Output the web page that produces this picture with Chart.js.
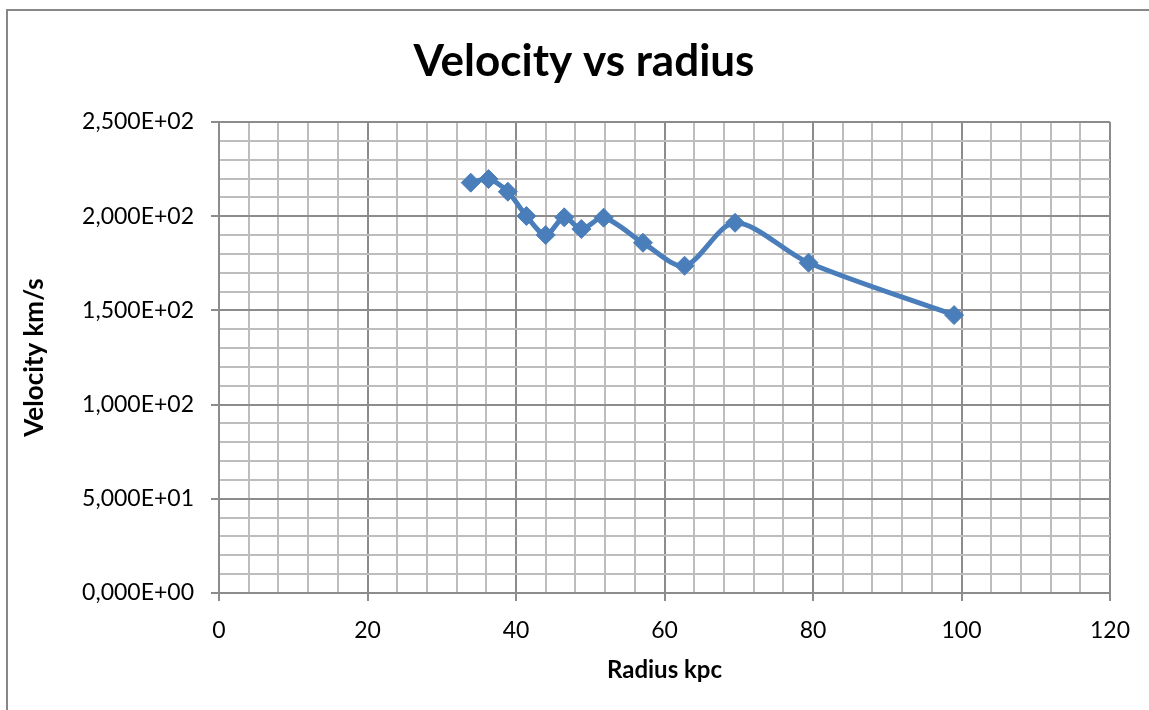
<!DOCTYPE html>
<html>
<head>
<meta charset="utf-8">
<script src="https://cdn.jsdelivr.net/npm/chart.js@4"></script>
<style>
html,body{margin:0;padding:0;background:#fff;}
#wrap{width:1149px;height:710px;position:relative;}
</style>
</head>
<body>
<div id="wrap"><canvas id="c" width="1149" height="710"></canvas></div>
<script>
const radiusKpc = [33.9, 36.3, 38.9, 41.4, 44.0, 46.5, 48.8, 51.8, 57.1, 62.7, 69.5, 79.4, 99.0];
const velocityKms = [217.8, 219.7, 213.0, 200.1, 190.0, 199.4, 193.2, 199.2, 185.9, 173.7, 196.5, 175.3, 147.5];
const xMajorTicks = [0, 20, 40, 60, 80, 100, 120];
const yMajorTicks = [0, 50, 100, 150, 200, 250];
const titleText = 'Velocity vs radius';
const xTitle = 'Radius kpc';
const yTitle = 'Velocity km/s';

function sciComma(v) {
  if (v === 0) return '0,000E+00';
  const e = Math.floor(Math.log10(Math.abs(v)));
  const m = v / Math.pow(10, e);
  const es = (e < 0 ? '-' : '+') + String(Math.abs(e)).padStart(2, '0');
  return m.toFixed(3).replace('.', ',') + 'E' + es;
}
const isMajor = (arr, v) => arr.some(t => Math.abs(t - v) < 1e-6);

const borderPlugin = {
  id: 'outerBorder',
  afterDraw(chart) {
    const ctx = chart.ctx;
    ctx.save();
    ctx.strokeStyle = '#878787';
    ctx.lineWidth = 2;
    ctx.beginPath();
    ctx.moveTo(7, 710);
    ctx.lineTo(7, 10);
    ctx.lineTo(1149, 10);
    ctx.stroke();
    ctx.restore();
  }
};

const points = radiusKpc.map((x, i) => ({x: x, y: velocityKms[i]}));
const FONT = "Lato, 'Open Sans', 'Liberation Sans', sans-serif";

new Chart(document.getElementById('c'), {
  type: 'scatter',
  data: {
    datasets: [{
      data: points,
      showLine: true,
      tension: 0.3,
      borderColor: '#4A7EBB',
      backgroundColor: '#4A7EBB',
      borderWidth: 5,
      pointStyle: 'rectRot',
      pointRadius: 9.5,
      pointHoverRadius: 9.5,
      pointBorderWidth: 1,
      pointBorderColor: '#4A7EBB'
    }]
  },
  options: {
    responsive: false,
    animation: false,
    layout: {padding: {top: 0, right: 0, left: 19, bottom: 0}},
    plugins: {
      legend: {display: false},
      tooltip: {enabled: false},
      title: {
        display: true,
        text: titleText,
        color: '#000',
        font: {family: FONT, size: 44, weight: 'bold', lineHeight: 1.2},
        padding: {top: 35, bottom: 34.2}
      }
    },
    scales: {
      x: {
        type: 'linear',
        min: 0, max: 120,
        afterFit(s) { s.height = 117; },
        ticks: {
          stepSize: 4,
          autoSkip: false,
          maxRotation: 0,
          padding: 16,
          color: '#000',
          font: {family: FONT, size: 23},
          callback: v => isMajor(xMajorTicks, v) ? String(v) : ''
        },
        grid: {
          color: c => isMajor(xMajorTicks, c.tick.value) ? '#8c8c8c' : '#bdbdbd',
          tickColor: c => isMajor(xMajorTicks, c.tick.value) ? '#8c8c8c' : 'rgba(0,0,0,0)',
          lineWidth: 2,
          tickLength: 8
        },
        border: {color: '#8c8c8c', width: 2},
        title: {
          display: true,
          text: xTitle,
          color: '#000',
          font: {family: FONT, size: 24, weight: 'bold', lineHeight: 1.2},
          padding: {top: 0, bottom: 25}
        }
      },
      y: {
        type: 'linear',
        min: 0, max: 250,
        afterFit(s) { s.width = 200; },
        ticks: {
          stepSize: 10,
          autoSkip: false,
          padding: 17,
          color: '#000',
          font: {family: FONT, size: 23},
          callback: v => isMajor(yMajorTicks, v) ? sciComma(v) : ''
        },
        grid: {
          color: c => isMajor(yMajorTicks, c.tick.value) ? '#8c8c8c' : '#bdbdbd',
          tickColor: c => isMajor(yMajorTicks, c.tick.value) ? '#8c8c8c' : 'rgba(0,0,0,0)',
          lineWidth: 2,
          tickLength: 8
        },
        border: {color: '#8c8c8c', width: 2},
        title: {
          display: true,
          text: yTitle,
          color: '#000',
          font: {family: FONT, size: 26, weight: 'bold', lineHeight: 1.2},
          padding: {top: 0, bottom: 0}
        }
      },
      yPad: {
        type: 'linear',
        position: 'right',
        display: true,
        afterFit(s) { s.width = 39; },
        grid: {display: false, drawTicks: false},
        ticks: {display: false},
        border: {display: false},
        title: {display: false}
      }
    }
  },
  plugins: [borderPlugin]
});
</script>
</body>
</html>
